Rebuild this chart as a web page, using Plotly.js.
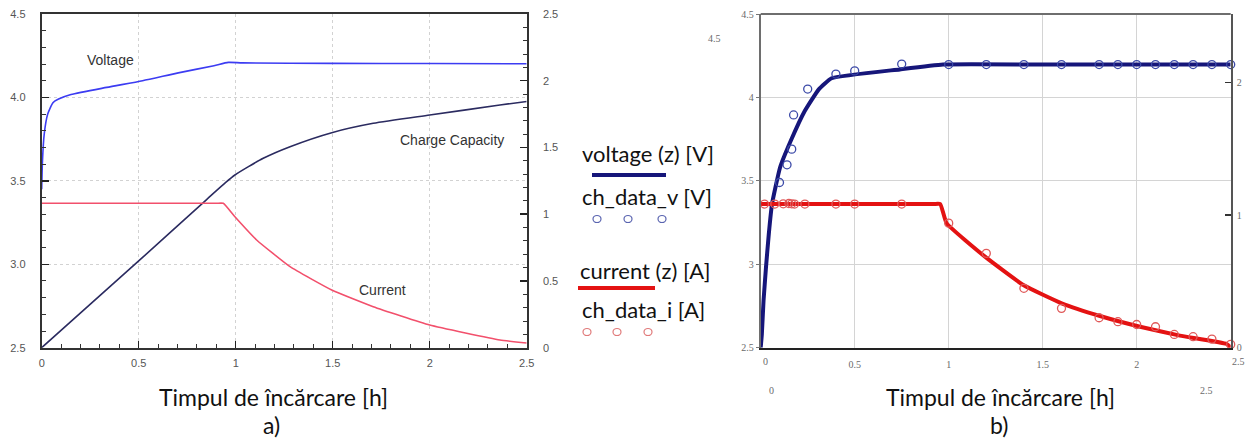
<!DOCTYPE html>
<html>
<head>
<meta charset="utf-8">
<script src="https://cdn.plot.ly/plotly-3.0.1.min.js"></script>
<style>
  html, body { margin: 0; padding: 0; background: #ffffff; }
  #chart { width: 1251px; height: 445px; }
</style>
</head>
<body>
<div id="chart"></div>
<script>
// ---------- a) measured charge curves ----------
const timeVoltA = [0, 0.004, 0.013, 0.031, 0.059, 0.087, 0.151, 0.335, 0.52, 0.704, 0.888, 0.962, 1.035, 1.5, 2.0, 2.5];
const voltA     = [3.45, 3.62, 3.78, 3.90, 3.97, 3.99, 4.017, 4.06, 4.10, 4.147, 4.19, 4.21, 4.207, 4.204, 4.203, 4.202];

const timeCapA = [0, 0.5, 0.85, 0.95, 0.996, 1.142, 1.28, 1.495, 1.709, 2.0, 2.362, 2.5];
const capA     = [0, 0.65, 1.11, 1.24, 1.294, 1.419, 1.506, 1.611, 1.681, 1.743, 1.818, 1.845];

const timeCurA = [0, 0.5, 0.9, 0.936, 0.996, 1.108, 1.28, 1.495, 1.709, 2.0, 2.362, 2.5];
const curA     = [1.082, 1.082, 1.082, 1.082, 0.981, 0.807, 0.607, 0.432, 0.307, 0.170, 0.058, 0.035];

// ---------- b) model vs. data ----------
const timeVoltModel = [0, 0.006, 0.015, 0.028, 0.043, 0.06, 0.103, 0.16, 0.235, 0.31, 0.377, 0.74, 0.97, 1.5, 2.0, 2.5];
const voltModel     = [2.5, 2.58, 2.78, 2.98, 3.18, 3.36, 3.58, 3.74, 3.92, 4.05, 4.115, 4.168, 4.197, 4.197, 4.197, 4.197];

const timeVoltData = [0.1, 0.14, 0.165, 0.175, 0.25, 0.4, 0.5, 0.75, 1.0, 1.2, 1.4, 1.6, 1.8, 1.9, 2.0, 2.1, 2.2, 2.3, 2.4, 2.5];
const voltData     = [3.49, 3.596, 3.69, 3.895, 4.05, 4.14, 4.159, 4.20, 4.197, 4.197, 4.197, 4.197, 4.197, 4.197, 4.197, 4.197, 4.197, 4.197, 4.197, 4.197];

const timeCurModel = [0, 0.5, 0.92, 0.955, 0.989, 1.193, 1.397, 1.601, 1.805, 2.018, 2.23, 2.479, 2.5];
const curModel     = [1.084, 1.084, 1.084, 1.084, 0.939, 0.687, 0.473, 0.335, 0.239, 0.158, 0.091, 0.028, 0.0];

const timeCurData = [0.02, 0.075, 0.12, 0.15, 0.165, 0.18, 0.235, 0.4, 0.5, 0.75, 1.0, 1.2, 1.4, 1.6, 1.8, 1.9, 2.0, 2.1, 2.2, 2.3, 2.4, 2.5];
const curData     = [1.084, 1.084, 1.086, 1.088, 1.086, 1.084, 1.084, 1.084, 1.084, 1.084, 0.94, 0.712, 0.448, 0.297, 0.226, 0.196, 0.175, 0.158, 0.10, 0.083, 0.065, 0.025];

// ---------- tick labels of panel b) ----------
const ticksB_x      = [0.5, 1, 1.5, 2];
const ticksB_xText  = ['0.5', '1', '1.5', '2'];
const ticksB_y      = [2.5, 3, 3.5, 4, 4.5];
const ticksB_yText  = ['2.5', '3', '3.5', '4', '4.5'];
const ticksB_y2     = [0, 1, 2];
const ticksB_y2Text = ['0', '1', '2'];

// ---------- layout helpers (pixel -> paper) ----------
const W = 1251, H = 445;
const px = x => x / W;
const py = y => 1 - y / H;

const domA_x = [px(41.7), px(526.7)];
const domB_x = [px(760.7), px(1230.7)];
const dom_y  = [py(347.7), py(14)];

const sansTick  = { family: 'Liberation Sans, Arial, sans-serif', size: 11, color: '#555555' };
const serifTick = { family: 'Liberation Serif, Times New Roman, serif', size: 10, color: '#6a6a6a' };
const textFont  = { family: 'Lato, Carlito, sans-serif', size: 22, color: '#111111' };
const titleFont = { family: 'Lato, Carlito, sans-serif', size: 23, color: '#111111' };
const plotLabel = { family: 'Liberation Sans, Arial, sans-serif', size: 14, color: '#333333' };

const traces = [
  // a)
  { x: timeVoltA, y: voltA, xaxis: 'x', yaxis: 'y', mode: 'lines',
    line: { color: '#3c3cf2', width: 1.6, shape: 'spline', smoothing: 0.6 }, hoverinfo: 'skip' },
  { x: timeCapA, y: capA, xaxis: 'x', yaxis: 'y2', mode: 'lines',
    line: { color: '#2b2b60', width: 1.6, shape: 'spline', smoothing: 0.6 }, hoverinfo: 'skip' },
  { x: timeCurA, y: curA, xaxis: 'x', yaxis: 'y2', mode: 'lines',
    line: { color: '#f2506c', width: 1.6, shape: 'spline', smoothing: 0.4 }, hoverinfo: 'skip' },
  // b)
  { x: timeVoltModel, y: voltModel, xaxis: 'x2', yaxis: 'y3', mode: 'lines',
    line: { color: '#16167a', width: 4, shape: 'spline', smoothing: 0.4 }, hoverinfo: 'skip' },
  { x: timeCurModel, y: curModel, xaxis: 'x2', yaxis: 'y4', mode: 'lines',
    line: { color: '#e41212', width: 4, shape: 'spline', smoothing: 0.4 }, hoverinfo: 'skip' },
  { x: timeVoltData, y: voltData, xaxis: 'x2', yaxis: 'y3', mode: 'markers',
    marker: { symbol: 'circle-open', size: 8, color: '#3c4aa8', line: { width: 1.3 } },
    cliponaxis: false, hoverinfo: 'skip' },
  { x: timeCurData, y: curData, xaxis: 'x2', yaxis: 'y4', mode: 'markers',
    marker: { symbol: 'circle-open', size: 8, color: '#e05a5a', line: { width: 1.3 } },
    cliponaxis: false, hoverinfo: 'skip' }
];

// legend swatches in the middle
const navy = '#16167a', red = '#e41212';
const legendShapes = [
  { type: 'line', xref: 'paper', yref: 'paper', x0: px(592), x1: px(666), y0: py(175), y1: py(175),
    line: { color: navy, width: 4 } },
  { type: 'line', xref: 'paper', yref: 'paper', x0: px(578), x1: px(655), y0: py(288), y1: py(288),
    line: { color: red, width: 4 } }
];
const circ = (cx, cy, col) => ({
  type: 'circle', xref: 'paper', yref: 'paper',
  x0: px(cx - 4), x1: px(cx + 4), y0: py(cy + 3.5), y1: py(cy - 3.5),
  line: { color: col, width: 1.2 }
});
[597, 628, 662].forEach(c => legendShapes.push(circ(c, 219, '#5a64b0')));
[587, 617, 648].forEach(c => legendShapes.push(circ(c, 332, '#e07a7a')));

// frame of panel b): grey top border
const frameShapes = [
  { type: 'line', xref: 'x2 domain', yref: 'y3 domain', x0: 0, x1: 1, y0: 1, y1: 1,
    line: { color: '#6e6e6e', width: 2 } }
];

const ann = (text, x, y, font, extra) => Object.assign(
  { text, x: px(x), y: py(y), xref: 'paper', yref: 'paper', showarrow: false,
    xanchor: 'center', yanchor: 'middle', font }, extra || {});

const annotations = [
  // in-plot labels of a)
  ann('Voltage', 110, 60, plotLabel),
  ann('Charge Capacity', 452, 140, plotLabel),
  ann('Current', 382, 290, plotLabel),
  // legend texts
  ann('voltage (z) [V]', 580, 153, textFont, { xanchor: 'left' }),
  ann('ch_data_v [V]', 580, 197, textFont, { xanchor: 'left' }),
  ann('current (z) [A]', 578, 270, textFont, { xanchor: 'left' }),
  ann('ch_data_i [A]', 580, 309, textFont, { xanchor: 'left' }),
  // axis captions
  ann('Timpul de încărcare [h]', 273, 397, titleFont),
  ann('Timpul de încărcare [h]', 1001, 397, titleFont),
  ann('a)', 271, 425, titleFont),
  ann('b)', 999, 425, titleFont),
  // limit labels of panel b)
  ann('0', 765, 361, serifTick),
  ann('2.5', 1238, 361, serifTick),
  ann('4.5', 714, 38, serifTick),
  ann('0', 771, 390, serifTick),
  ann('2.5', 1206, 390, serifTick)
];

// panel a) axes: major ticks every 0.5, minor ticks every 0.1, all pointing inward
const tickA = {
  tickfont: sansTick, tickmode: 'linear', dtick: 0.5,
  ticks: 'inside', ticklen: 7, tickwidth: 1.5, tickcolor: '#222',
  minor: { ticks: 'inside', dtick: 0.1, ticklen: 4, tickwidth: 1, tickcolor: '#333' },
  showline: true, linecolor: '#333', linewidth: 2, zeroline: false
};

const layout = {
  width: W, height: H,
  margin: { l: 0, r: 0, t: 0, b: 0, pad: 0 },
  paper_bgcolor: '#ffffff', plot_bgcolor: '#ffffff',
  showlegend: false,
  // ----- panel a) -----
  xaxis: Object.assign({}, tickA, {
    domain: domA_x, anchor: 'y', range: [0, 2.5], tick0: 0, mirror: true,
    showgrid: true, gridcolor: '#d2d2d2', griddash: 'dot', gridwidth: 1,
    ticklabelstandoff: 4
  }),
  yaxis: Object.assign({}, tickA, {
    domain: dom_y, anchor: 'x', range: [2.5, 4.5], tick0: 2.5, tickformat: '.1f',
    showgrid: true, gridcolor: '#d2d2d2', griddash: 'dot', gridwidth: 1,
    ticklabelstandoff: 12
  }),
  yaxis2: Object.assign({}, tickA, {
    overlaying: 'y', side: 'right', anchor: 'x', range: [0, 2.5], tick0: 0,
    showgrid: false, ticklabelstandoff: 12
  }),
  // ----- panel b) -----
  xaxis2: {
    domain: domB_x, anchor: 'y3', range: [0, 2.5],
    tickvals: ticksB_x, ticktext: ticksB_xText, tickfont: serifTick,
    ticks: '', showline: true, linecolor: '#222', linewidth: 2,
    showgrid: true, gridcolor: '#d4d4d4', gridwidth: 1,
    zeroline: false, ticklabelstandoff: 6
  },
  yaxis3: {
    domain: dom_y, anchor: 'x2', range: [2.5, 4.5],
    tickvals: ticksB_y, ticktext: ticksB_yText, tickfont: serifTick,
    ticks: 'outside', ticklen: 3, tickcolor: '#777',
    showline: true, linecolor: '#6e6e6e', linewidth: 2,
    showgrid: true, gridcolor: '#d4d4d4', gridwidth: 1,
    zeroline: false, ticklabelstandoff: 0
  },
  yaxis4: {
    overlaying: 'y3', side: 'right', anchor: 'x2', range: [0, 2.518],
    tickvals: ticksB_y2, ticktext: ticksB_y2Text, tickfont: serifTick,
    ticks: 'inside', ticklen: 6, tickwidth: 1.5, tickcolor: '#333',
    showline: true, linecolor: '#555', linewidth: 2,
    showgrid: false, zeroline: false, ticklabelstandoff: 2
  },
  shapes: frameShapes.concat(legendShapes),
  annotations
};

Plotly.newPlot('chart', traces, layout, { staticPlot: true, displayModeBar: false });
</script>
</body>
</html>
